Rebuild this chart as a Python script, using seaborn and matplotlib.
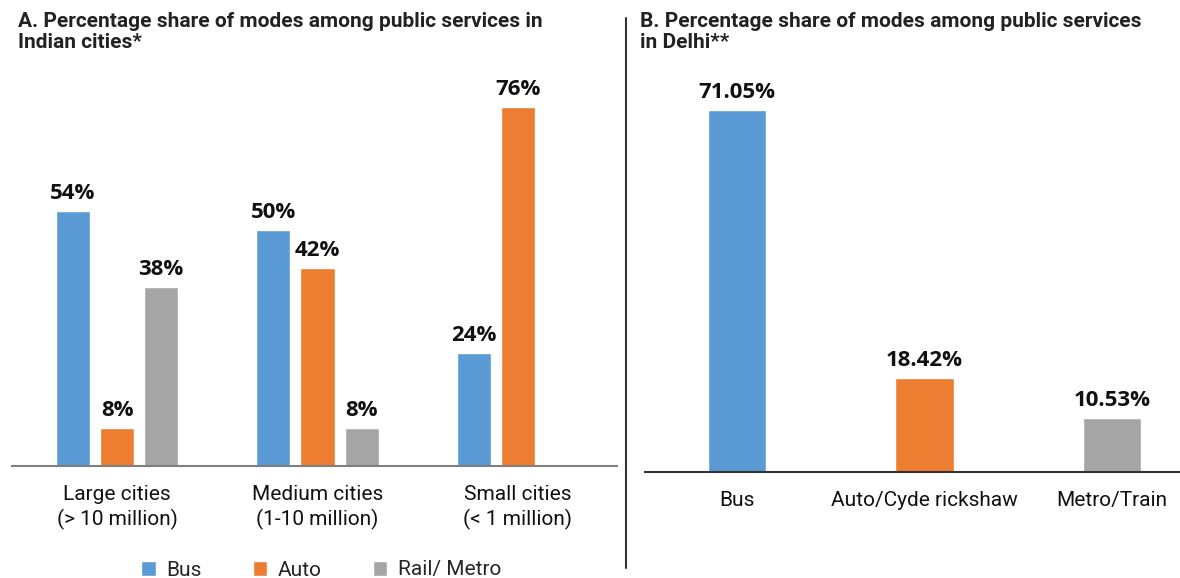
import numpy as np
import pandas as pd
import matplotlib
matplotlib.use("Agg")
import matplotlib.pyplot as plt
from matplotlib.lines import Line2D
import seaborn as sns

# ---- data ----
city_groups = ["Large cities\n(> 10 million)", "Medium cities\n(1-10 million)", "Small cities\n(< 1 million)"]
modes = ["Bus", "Auto", "Rail/ Metro"]
bus_share = [54, 50, 24]
auto_share = [8, 42, 76]
rail_share = [38, 8, np.nan]

delhi_modes = ["Bus", "Auto/Cyde rickshaw", "Metro/Train"]
delhi_share = [71.05, 18.42, 10.53]

colors = ["#5B9BD5", "#ED7D31", "#A5A5A5"]

sns.set_theme(style="white")
plt.rcParams["font.family"] = ["Roboto", "DejaVu Sans"]

df_a = pd.DataFrame({
    "city": city_groups * 3,
    "mode": [modes[0]] * 3 + [modes[1]] * 3 + [modes[2]] * 3,
    "share": bus_share + auto_share + rail_share,
})
df_b = pd.DataFrame({"mode": delhi_modes, "share": delhi_share})

W, H = 1180, 578
fig = plt.figure(figsize=(W / 100, H / 100), dpi=100)

# ---- left panel ----
axA = fig.add_axes([12 / W, (H - 466) / H, 605 / W, 0.6533])
sns.barplot(data=df_a, x="city", y="share", hue="mode", hue_order=modes,
            palette=colors, width=0.66, gap=0.227, ax=axA, saturation=1)
axA.set_xlim(-0.524, 2.494)
axA.set_ylim(0, 80)
for c in axA.containers:
    axA.bar_label(c, fmt="%.0f%%", padding=5, fontsize=16, fontweight="bold",
                  family=["Open Sans", "DejaVu Sans"], color="#111111")

# ---- right panel ----
axB = fig.add_axes([645 / W, (H - 472) / H, 535 / W, 0.6618])
sns.barplot(data=df_b, x="mode", y="share", hue="mode", palette=colors,
            width=0.31, ax=axB, saturation=1, legend=False)
axB.set_xlim(-0.4907, 2.3627)
axB.set_ylim(0, 75)
for c in axB.containers:
    axB.bar_label(c, fmt="%.2f%%", padding=5, fontsize=16, fontweight="bold",
                  family=["Open Sans", "DejaVu Sans"], color="#111111")

for ax, lc in ((axA, "#7f7f7f"), (axB, "#333333")):
    ax.set_xlabel("")
    ax.set_ylabel("")
    ax.set_yticks([])
    for s in ("top", "right", "left"):
        ax.spines[s].set_visible(False)
    ax.spines["bottom"].set_color(lc)
    ax.spines["bottom"].set_linewidth(1.5)
    ax.tick_params(axis="x", length=0, pad=14, labelsize=15, colors="#111111")
    for lab in ax.get_xticklabels():
        lab.set_linespacing(1.3)

# legend
sns.move_legend(axA, "center", bbox_to_anchor=(321 / W, 8 / H),
                bbox_transform=fig.transFigure, ncol=3, frameon=False,
                title=None, fontsize=15, handlelength=0.7, handleheight=0.7,
                handletextpad=0.5, columnspacing=2.45)

# titles
fig.text(18 / W, 1 - 12 / H, "A. Percentage share of modes among public services in\nIndian cities*",
         ha="left", va="top", fontsize=15, fontweight="bold", color="#222222", linespacing=1.1)
fig.text(640 / W, 1 - 12 / H, "B. Percentage share of modes among public services\nin Delhi**",
         ha="left", va="top", fontsize=15, fontweight="bold", color="#222222", linespacing=1.1)

# divider
fig.add_artist(Line2D([626 / W, 626 / W], [1 - 18 / H, 1 - 568 / H],
                      transform=fig.transFigure, color="#333333", lw=1.5))

fig.savefig("out.png", dpi=100)
